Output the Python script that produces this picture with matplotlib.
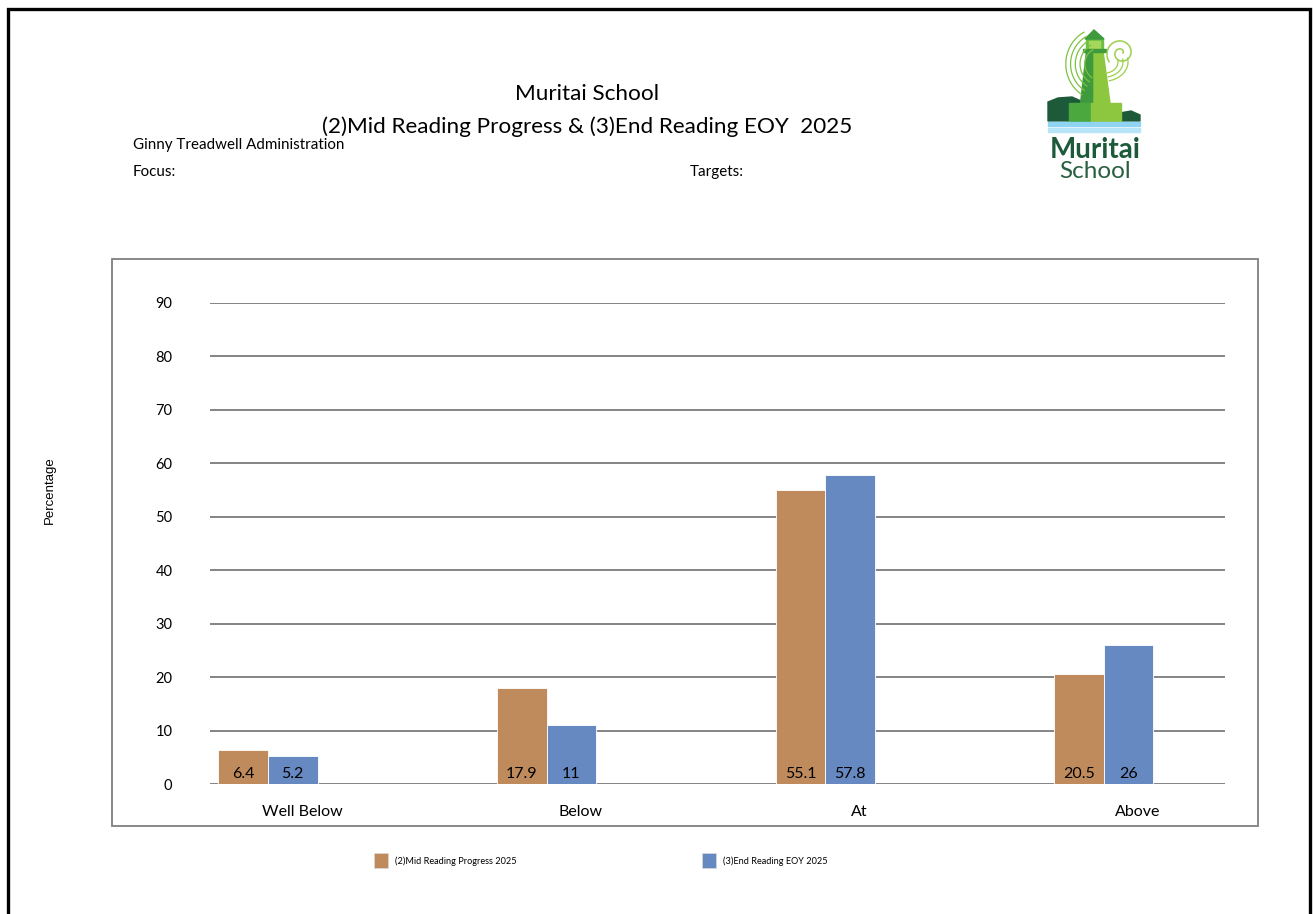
#!/usr/bin/env python3

import numpy as np
import matplotlib
import matplotlib.pyplot as plt
from matplotlib.patches import Rectangle, Polygon

matplotlib.use("Agg")  # Use non-interactive backend

plt.rcParams["font.family"] = ["Lato", "DejaVu Sans"]

# Achievement bands and results per report
categories = ["Well Below", "Below", "At", "Above"]
series_names = ["(2)Mid Reading Progress 2025", "(3)End Reading EOY 2025"]
mid_reading = [6.4, 17.9, 55.1, 20.5]
end_reading = [5.2, 11, 57.8, 26]
y_ticks = [0, 10, 20, 30, 40, 50, 60, 70, 80, 90]

BROWN = "#c08b5c"
BLUE = "#6689c1"
GRID = "#6f6f6f"

W, H = 1313, 914
fig = plt.figure(figsize=(W / 100, H / 100), dpi=100)

# Page-level layer in pixel coordinates (y downwards)
bg = fig.add_axes([0, 0, 1, 1])
bg.set_xlim(0, W)
bg.set_ylim(H, 0)
bg.axis("off")

# page border
bg.plot([8, 8, 1310, 1310], [H + 5, 9, 9, H + 5], color="black", lw=2.4,
        solid_joinstyle="miter")

# header text
bg.text(587, 94, "Muritai School", ha="center", va="center", fontsize=16.2)
bg.text(587, 127, "(2)Mid Reading Progress & (3)End Reading EOY  2025",
        ha="center", va="center", fontsize=16.2)
bg.text(133, 145, "Ginny Treadwell Administration", ha="left", va="center",
        fontsize=10.9)
bg.text(133, 172, "Focus:", ha="left", va="center", fontsize=10.9)
bg.text(690, 172, "Targets:", ha="left", va="center", fontsize=10.9)


def draw_logo(a):
    """School logo: lighthouse, swirl, hills and water."""
    dark = "#1d5a3a"
    mid = "#3f9a3e"
    light = "#8dc63f"
    # shell-like arcs to the left of the tower
    for r in (16, 21, 26, 31, 36):
        t = np.radians(np.linspace(118, 238, 50))
        a.plot(1100 + r * np.cos(t) * 0.95, 64 - r * np.sin(t),
               color="#7cc242", lw=0.9)
    # spiral to the right
    t = np.linspace(0, 3.2 * np.pi, 220)
    r = 2.0 + 4.0 * t / np.pi
    a.plot(1121 + r * np.cos(t), 53 - r * np.sin(t), color="#9ccf4a", lw=1.1)
    for k in range(3):
        tt = np.linspace(-0.2, 1.35, 40)
        rr = 14 + 5 * k
        a.plot(1104 + rr * np.cos(tt), 62 + rr * np.sin(tt) * 0.8,
               color="#9ccf4a", lw=0.9)
    # hills
    a.add_patch(Polygon([(1048, 121), (1048, 102), (1058, 98), (1072, 97),
                         (1081, 101), (1081, 121)], closed=True, color=dark))
    a.add_patch(Polygon([(1118, 121), (1120, 113), (1131, 111), (1140, 115),
                         (1140, 121)], closed=True, color=dark))
    # tower
    a.add_patch(Polygon([(1086, 51), (1094, 51), (1094, 103), (1080, 103)],
                        closed=True, color=mid))
    a.add_patch(Polygon([(1094, 51), (1103, 51), (1110, 103), (1094, 103)],
                        closed=True, color=light))
    a.add_patch(Rectangle((1086, 38), 17, 13, color="#6cbd45"))
    a.add_patch(Rectangle((1089, 41), 11, 7, color="#a5d75a"))
    a.add_patch(Polygon([(1085, 39), (1094, 30), (1104, 39)], closed=True,
                        color=mid))
    a.add_patch(Rectangle((1083, 49), 23, 3, color=mid))
    # base block
    a.add_patch(Rectangle((1069, 103), 22, 18, color="#4aa83f"))
    a.add_patch(Rectangle((1091, 103), 30, 18, color=light))
    # water
    a.add_patch(Rectangle((1048, 122), 92, 4, color="#8fd4f2"))
    a.add_patch(Rectangle((1048, 128), 92, 4, color="#b7e4f7"))
    a.text(1095, 150, "Muritai", ha="center", va="center", fontsize=20,
           fontweight="bold", color=dark)
    a.text(1095, 171, "School", ha="center", va="center", fontsize=17.5,
           color="#275f3f")


draw_logo(bg)

# chart frame
bg.add_patch(Rectangle((112, 259), 1146, 567, fill=False, edgecolor="#7f7f7f",
                       lw=1.3))
bg.text(50, 490, "Percentage", rotation=90, ha="center", va="center",
        fontsize=9.5, family="Liberation Sans")

# legend
for x0, name, color in zip([374, 702], series_names, [BROWN, BLUE]):
    bg.add_patch(Rectangle((x0, 853), 14, 15, facecolor=color,
                           edgecolor="#d9d9d9", lw=0.5))
    bg.text(x0 + 21, 861, name, ha="left", va="center", fontsize=6.6)

# Main chart
ax = fig.add_axes([210 / W, 1 - 784 / H, 1015 / W, (784 - 303) / H])
x = np.arange(len(categories))
width = 0.178
bars_mid = ax.bar(x - width / 2, mid_reading, width, color=BROWN,
                  edgecolor="white", lw=0.6, zorder=3)
bars_end = ax.bar(x + width / 2, end_reading, width, color=BLUE,
                  edgecolor="white", lw=0.6, zorder=3)

for bars, vals in ((bars_mid, mid_reading), (bars_end, end_reading)):
    for b, v in zip(bars, vals):
        ax.annotate(f"{v:g}", (b.get_x() + b.get_width() / 2, 0),
                    xytext=(0, 2), textcoords="offset points",
                    ha="center", va="bottom", fontsize=11.5, zorder=4)

ax.set_xlim(-0.208, 3.435)
ax.set_ylim(0, 90)
ax.set_yticks(y_ticks)
ax.set_yticklabels([str(t) for t in y_ticks], fontsize=10.5)
ax.set_xticks(x + 0.122)
ax.set_xticklabels(categories, fontsize=11.5)
ax.tick_params(axis="y", length=0, pad=27)
ax.tick_params(axis="x", length=0, pad=15)
ax.yaxis.grid(True, color=GRID, lw=1.2, zorder=1)
for s in ax.spines.values():
    s.set_visible(False)
ax.patch.set_alpha(0)

fig.savefig("out.png", dpi=100)
